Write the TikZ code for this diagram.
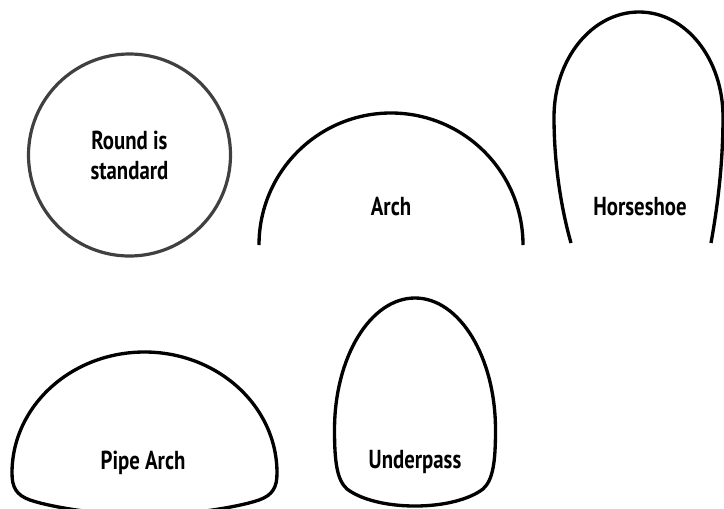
\documentclass[tikz,border=0pt]{standalone}
\usepackage{fontspec}
\setmainfont{PT Sans}[FakeStretch=0.8]
\usetikzlibrary{positioning}
\definecolor{rimgray}{RGB}{64,64,64}

\begin{document}
\begin{tikzpicture}[x=0.75pt, y=-0.75pt,
    culvert/.style={line width=2.5pt, line join=round},
    lbl/.style={font=\bfseries\fontsize{19.5}{22.5}\selectfont, inner sep=0pt, align=center}]

\useasboundingbox (0,0) rectangle (724,508);
\clip (0,0) rectangle (724,508);

%% Round (circle)
\node[circle, draw=rimgray, line width=2.4pt, minimum size=151.5pt, lbl]
    (round) at (129.5,155) {Round is\\standard};

%% Arch
\draw[culvert] (259,245) arc[start angle=180, end angle=0, radius=99pt];
\node[lbl, anchor=base] (archlbl) at (391,215) {Arch};

%% Horseshoe
\draw[culvert] (571,243) .. controls (563,215) and (554,170) .. (554,117)
    .. controls (554,59) and (592,12) .. (639,12)
    .. controls (686,12) and (723,59) .. (723,117)
    .. controls (723,170) and (716,215) .. (711,243);
\node[lbl, anchor=base] (shoelbl) at (640,215) {Horseshoe};

%% Pipe arch
\draw[culvert] (144.5,516) .. controls (100,515) and (50,507) .. (30,500)
    .. controls (16,495) and (12,487) .. (12,473)
    .. controls (12,406) and (71.5,352) .. (144.5,352)
    .. controls (217.5,352) and (277,406) .. (277,473)
    .. controls (277,487) and (273,495) .. (259,500)
    .. controls (239,507) and (189,515) .. (144.5,516) -- cycle;
\node[lbl, anchor=base] (pipelbl) at (143,469) {Pipe Arch};

%% Underpass
\draw[culvert] (415,506) .. controls (385,506) and (360,499) .. (347,489)
    .. controls (337,480) and (334.5,462) .. (334.5,430)
    .. controls (334.5,357) and (370.5,298) .. (415,298)
    .. controls (459.5,298) and (495.5,357) .. (495.5,430)
    .. controls (495.5,462) and (493,480) .. (483,489)
    .. controls (470,499) and (445,506) .. (415,506) -- cycle;
\node[lbl, anchor=base] (passlbl) at (415,468) {Underpass};

\end{tikzpicture}
\end{document}
